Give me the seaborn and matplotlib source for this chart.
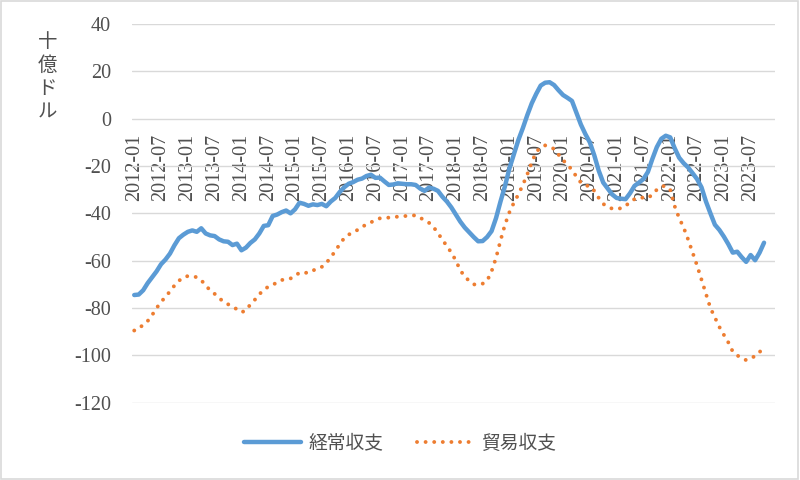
import pandas as pd
import matplotlib.pyplot as plt
import seaborn as sns
from matplotlib.patches import Rectangle

# monthly values, 2012-01 .. 2023-10 (billion USD)
current_account = [
    -74.5, -74.3, -72.5, -69.5, -67.0, -64.5, -61.5, -59.5, -57.0, -53.5, -50.5, -49.0,
    -47.8, -47.2, -47.8, -46.3, -48.5, -49.3, -49.6, -51.0, -51.8, -52.0, -53.4, -52.8,
    -55.6, -54.5, -52.5, -51.0, -48.5, -45.3, -45.0, -41.1, -40.5, -39.5, -38.8, -40.0,
    -38.3, -35.5, -36.0, -36.8, -36.2, -36.5, -36.0, -37.0, -35.0, -33.5, -31.0, -29.0,
    -27.5, -26.8, -25.8, -25.3, -24.2, -23.7, -25.0, -24.9, -26.5, -28.0, -27.8, -27.3,
    -27.5, -27.7, -27.7, -28.0, -29.5, -30.5, -29.1, -29.6, -30.5, -33.0, -35.0, -37.5,
    -40.5, -43.5, -46.0, -48.0, -50.0, -51.8, -51.7, -50.0, -47.5, -42.0, -35.0, -28.5,
    -21.0, -15.0, -9.0, -4.0, 1.5, 6.5, 10.5, 14.0, 15.2, 15.4, 14.2, 12.0,
    10.0, 8.8, 7.5, 2.5, -2.5, -6.5, -10.0, -15.5, -22.0, -27.0, -29.5, -32.0,
    -33.5, -33.8, -34.0, -31.5, -28.4, -27.0, -25.5, -22.5, -17.0, -12.0, -8.5, -7.2,
    -7.9, -12.5, -16.5, -18.8, -20.6, -23.0, -25.5, -29.0, -35.0, -40.0, -44.8, -47.0,
    -49.8, -53.0, -56.6, -56.2, -58.5, -60.5, -57.6, -59.8, -56.6, -52.4,
]
trade_balance = [
    -89.5, -88.8, -87.0, -85.5, -83.0, -80.0, -77.5, -75.2, -73.0, -70.5, -68.5, -67.0,
    -66.5, -66.5, -67.0, -68.2, -70.5, -72.5, -74.0, -75.8, -77.3, -78.4, -79.5, -80.5,
    -81.8, -81.0, -78.5, -76.5, -74.2, -72.3, -71.0, -70.0, -69.4, -68.2, -67.7, -67.5,
    -66.5, -65.0, -65.0, -65.2, -64.2, -63.2, -62.6, -61.0, -58.5, -56.0, -53.0, -50.5,
    -49.0, -48.0, -47.0, -45.6, -44.8, -43.8, -42.8, -42.1, -41.9, -41.8, -41.6, -41.4,
    -41.2, -41.1, -41.0, -40.8, -41.8, -43.0, -44.0, -45.7, -48.5, -51.0, -54.0, -56.5,
    -60.0, -64.0, -66.8, -68.5, -70.0, -70.2, -69.7, -68.5, -64.5, -58.8, -51.5, -44.8,
    -39.5, -35.5, -32.0, -28.0, -23.5, -18.5, -14.0, -12.2, -11.3, -11.8, -12.8, -15.2,
    -17.5, -19.5, -21.6, -24.5, -27.0, -28.3, -28.4, -30.5, -33.5, -36.0, -37.3, -38.0,
    -38.2, -37.8, -37.0, -35.0, -34.0, -33.3, -33.4, -33.6, -32.0, -30.0, -28.6, -28.4,
    -30.0, -37.0, -42.0, -46.0, -51.0, -56.5, -62.0, -68.0, -74.0, -80.0, -84.0, -88.0,
    -91.3, -94.5, -98.4, -100.0, -101.2, -102.0, -101.4, -100.2, -98.8, -95.2,
]
months = pd.period_range("2012-01", "2023-12", freq="M").strftime("%Y-%m").tolist()
y_ticks = [40, 20, 0, -20, -40, -60, -80, -100, -120]

df = pd.DataFrame({
    "idx": range(len(current_account)),
    "経常収支": current_account,
    "貿易収支": trade_balance,
})

sns.set_style("white")
plt.rcParams['font.family'] = ['Liberation Serif', 'Noto Sans CJK JP']

fig = plt.figure(figsize=(8, 4.8), dpi=100)
ax = fig.add_axes([0.165, 0.161, 0.804, 0.789])

sns.lineplot(data=df, x="idx", y="経常収支", ax=ax, color="#5B9BD5",
             linewidth=3.2, label="経常収支", solid_capstyle="round")
sns.lineplot(data=df, x="idx", y="貿易収支", ax=ax, color="#ED7D31",
             linewidth=2.8, linestyle=(0, (0.01, 2.2)), dash_capstyle="round",
             label="貿易収支")

ax.set_xlim(-0.5, len(months) - 0.5)
ax.set_ylim(-120, 40)
ax.spines["bottom"].set_position(("data", 0))
for s in ax.spines.values():
    s.set_visible(False)

ax.set_yticks(y_ticks)
ax.set_yticklabels([str(v) for v in y_ticks])
ax.grid(axis="y", color="#D9D9D9", linewidth=1)
ax.set_axisbelow(True)

ax.set_xticks(range(0, len(months), 6))
ax.set_xticklabels(months[::6])
ax.tick_params(axis="x", length=0, pad=11, labelsize=14.5, colors="#505050",
               labelrotation=90)
ax.tick_params(axis="y", length=0, pad=15, labelsize=14.5, colors="#505050")
ax.set_xlabel("")
ax.set_ylabel("")

fig.text(0.059, 0.935, "十\n億\nド\nル", ha="center", va="top", fontsize=14,
         linespacing=1.15, color="#505050", family=['Noto Sans CJK JP'])

ax.get_legend().remove()
h, l = ax.get_legend_handles_labels()
fig.legend(h, l, loc="center", bbox_to_anchor=(0.5, 0.077), ncol=2, frameon=False,
           handlelength=3.0, columnspacing=1.8, handletextpad=0.4,
           prop={"family": ['Noto Sans CJK JP'], "size": 13.5}, labelcolor="#505050")

fig.patches.append(Rectangle((0.001, 0.002), 0.997, 0.996, transform=fig.transFigure,
                             fill=False, edgecolor="#D9D9D9", linewidth=1.2))

fig.savefig("out.png", dpi=100)
